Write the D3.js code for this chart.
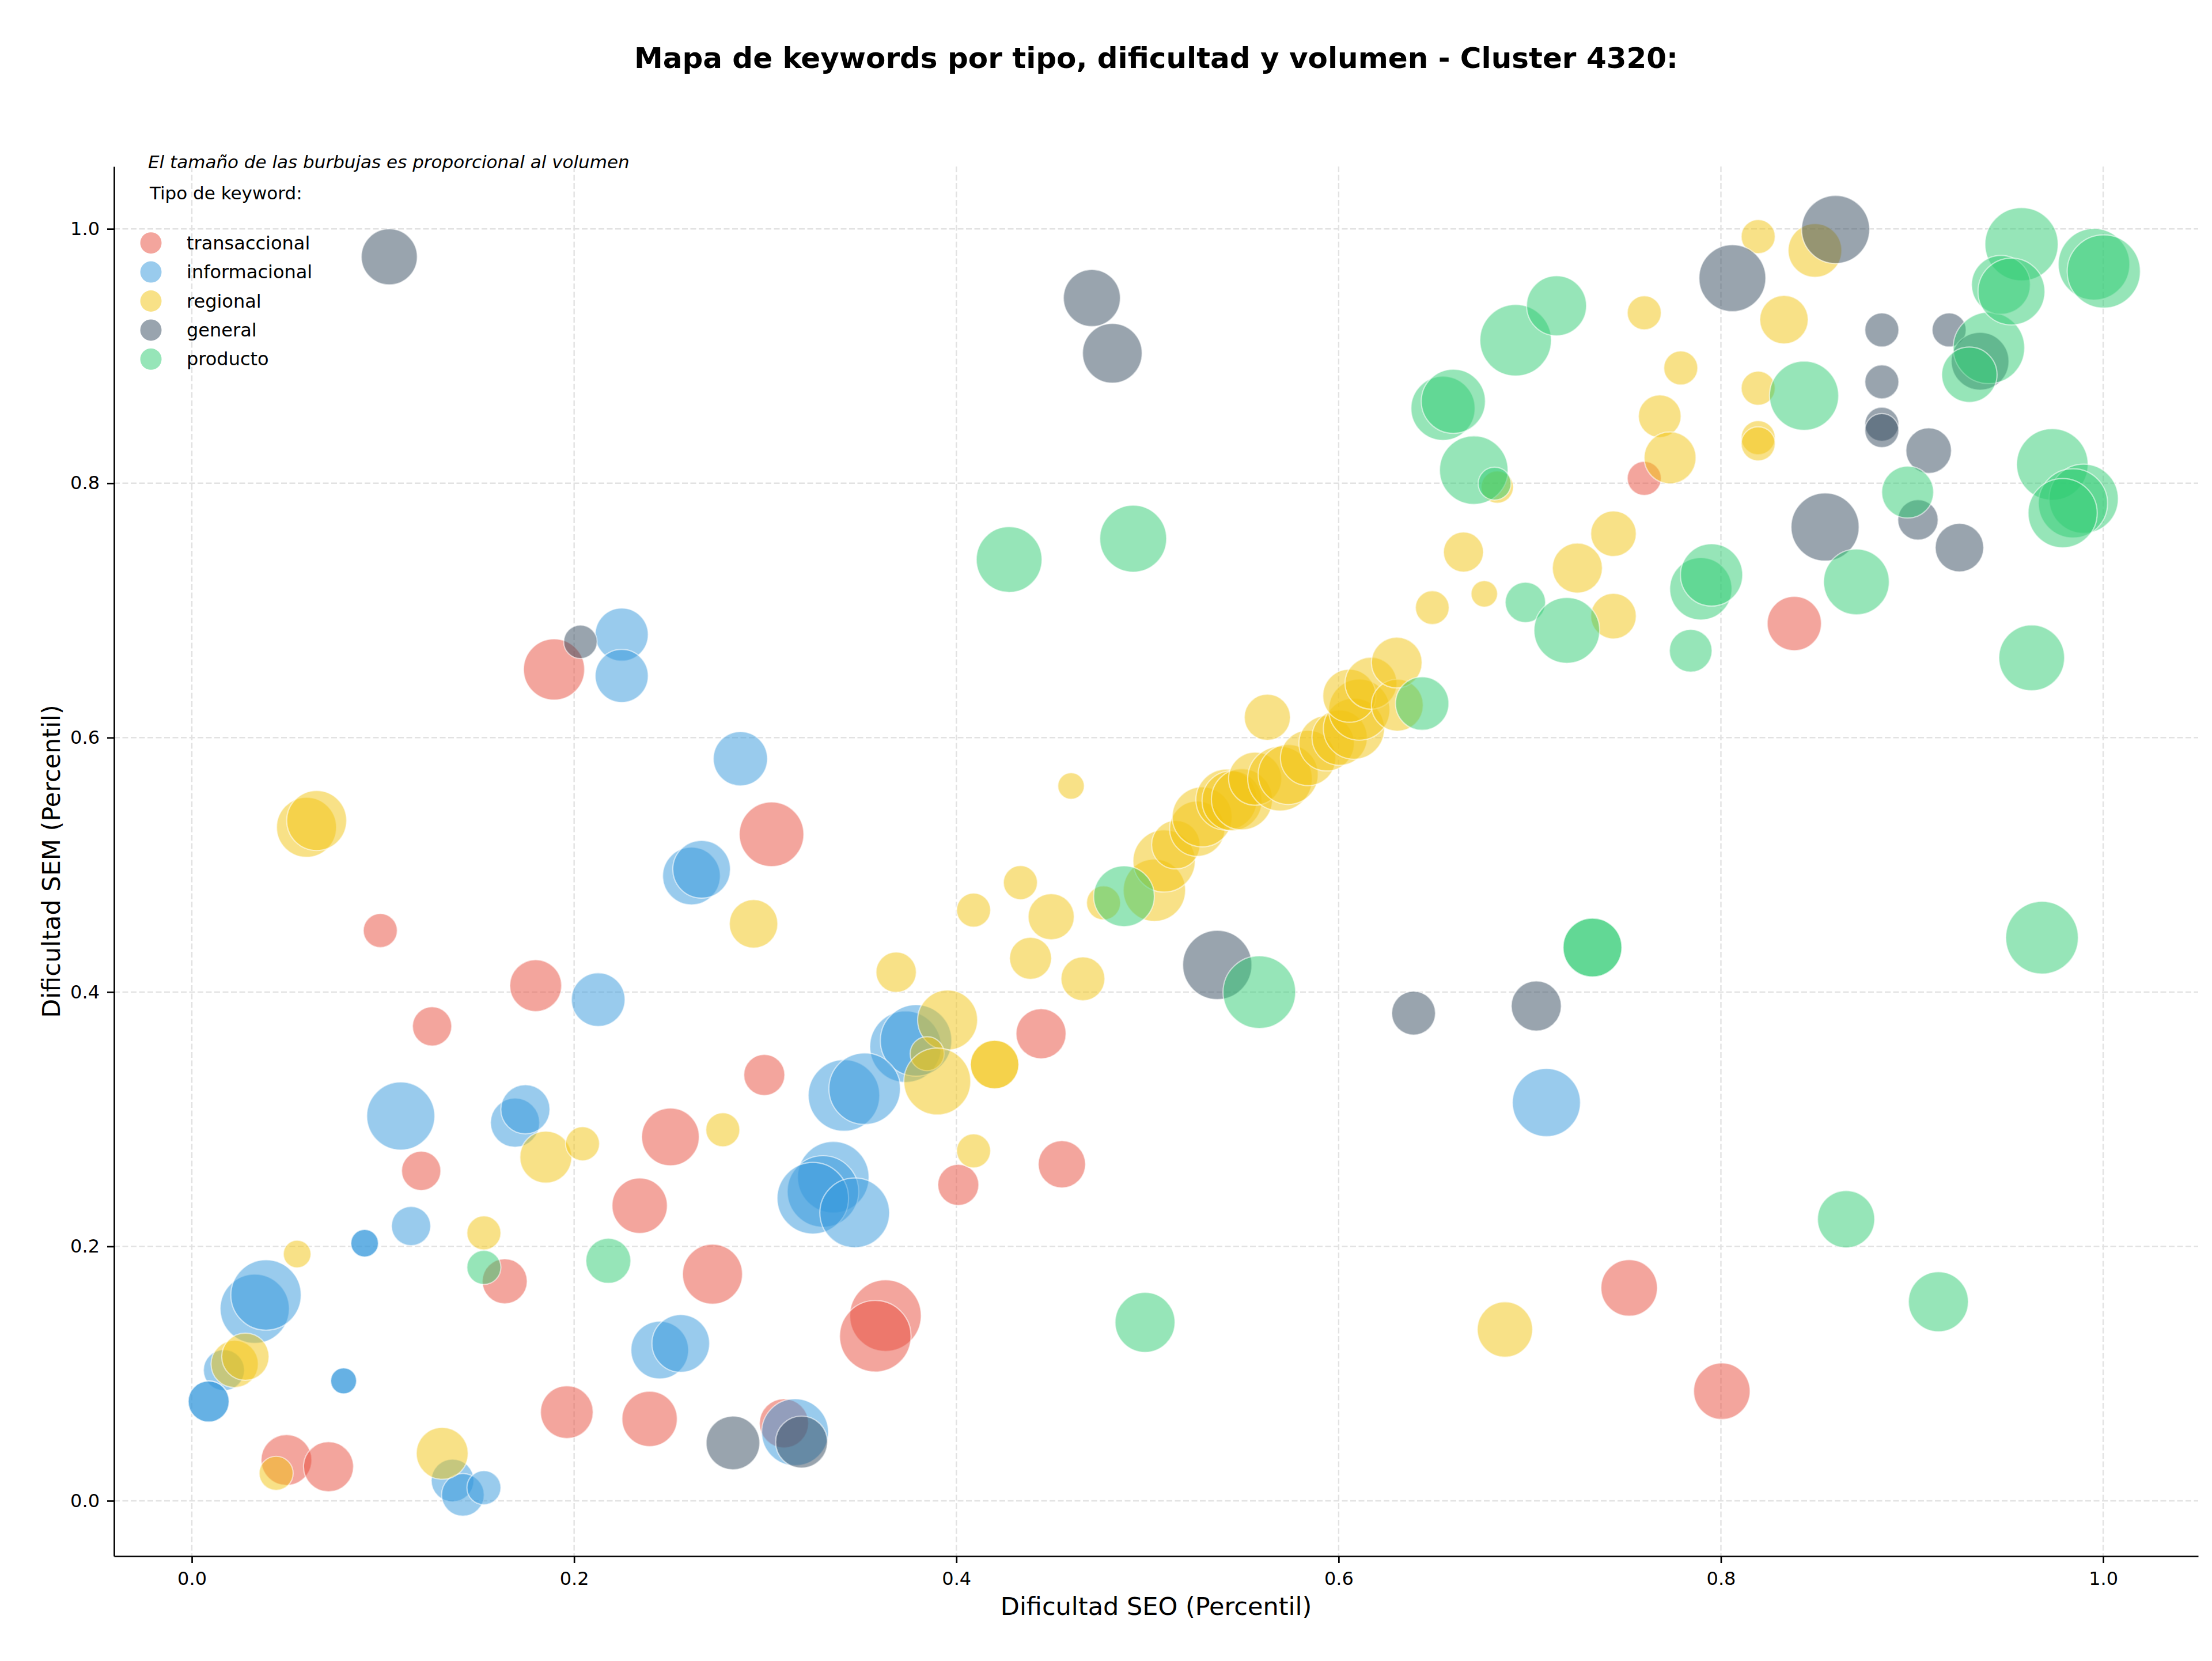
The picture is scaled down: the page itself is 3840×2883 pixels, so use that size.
<!DOCTYPE html>
<html><head><meta charset="utf-8">
<script src="https://cdn.jsdelivr.net/npm/d3@7"></script>
<style>
body{margin:0;background:#fff}
text{font-family:"DejaVu Sans",sans-serif;fill:#000}
</style>
</head><body>
<svg id="chart"></svg>
<script>
const tipos = ["transaccional","informacional","regional","general","producto"];
const colores = ["#e74c3c","#3498db","#f1c40f","#34495e","#2ecc71"];
const xTicks = [0.0,0.2,0.4,0.6,0.8,1.0];
const yTicks = [0.0,0.2,0.4,0.6,0.8,1.0];
const titulo = "Mapa de keywords por tipo, dificultad y volumen - Cluster 4320:";
const nota = "El tamaño de las burbujas es proporcional al volumen";
const tituloLeyenda = "Tipo de keyword:";
const etiquetaX = "Dificultad SEO (Percentil)";
const etiquetaY = "Dificultad SEM (Percentil)";

// [dificultad SEO, dificultad SEM, volumen]
const transaccional = [
[0.1895,0.6536,6650],[0.3033,0.524,7420],[0.0986,0.4483,2060],[0.1799,0.405,4790],
[0.1257,0.373,2740],[0.2995,0.3348,3000],[0.12,0.2594,2740],[0.2504,0.2861,5920],
[0.2343,0.232,5450],[0.2724,0.1782,6400],[0.1637,0.1726,3600],[0.0495,0.0321,4580],
[0.0715,0.0268,4460],[0.1962,0.0697,4940],[0.2395,0.0644,5450],[0.3098,0.0609,4300],
[0.4443,0.3672,4460],[0.401,0.2484,3000],[0.4552,0.2646,3980],[0.3629,0.1456,9100],
[0.3576,0.1294,9100],[0.7599,0.8038,2060],[0.8384,0.6897,5230],[0.752,0.1674,5680],
[0.8005,0.0862,5680]
];
const informacional = [
[0.2249,0.681,5010],[0.2249,0.6485,5010],[0.287,0.5834,5230],[0.2614,0.4912,5920],
[0.2667,0.4965,5920],[0.2126,0.394,5120],[0.1093,0.3025,8240],[0.1691,0.2973,4300],
[0.1745,0.3078,4300],[0.1147,0.216,2740],[0.0904,0.2025,1360],[0.0904,0.2025,1360],
[0.0329,0.151,8520],[0.0388,0.1618,8810],[0.2448,0.1185,5920],[0.2558,0.1237,5920],
[0.0168,0.1027,3000],[0.0088,0.0781,3000],[0.0088,0.0781,3000],[0.0794,0.0943,1200],
[0.0794,0.0943,1200],[0.1364,0.016,3240],[0.1418,0.0047,3240],[0.1528,0.0103,2060],
[0.3156,0.0539,7960],[0.3734,0.357,9100],[0.3789,0.3619,9100],[0.3412,0.3187,9100],
[0.352,0.324,9100],[0.3356,0.2544,9100],[0.3302,0.2432,9100],[0.3249,0.2379,9100],
[0.3468,0.2264,8660],[0.7087,0.3131,8240]
];
const regional = [
[0.06,0.5295,6400],[0.0653,0.5348,6400],[0.2939,0.4536,4180],[0.1852,0.2702,4790],
[0.2044,0.2807,2060],[0.2778,0.2917,2060],[0.0551,0.194,1360],[0.1528,0.2106,2060],
[0.0224,0.1076,3980],[0.028,0.1133,3980],[0.0441,0.0216,2060],[0.131,0.0373,4790],
[0.4335,0.486,2060],[0.409,0.4644,2060],[0.4496,0.4592,3790],[0.4388,0.4265,3140],
[0.4662,0.4104,3420],[0.3685,0.4156,2900],[0.477,0.4701,2060],[0.3954,0.378,6400],
[0.3847,0.3515,2060],[0.39,0.3297,7960],[0.42,0.343,4180],[0.42,0.343,4180],
[0.409,0.2751,2060],[0.687,0.1347,5450],[0.46,0.562,1250],[0.5627,0.616,3790],
[0.5036,0.48,6900],[0.5087,0.503,6900],[0.5148,0.5158,4180],[0.526,0.5284,5450],
[0.5286,0.5377,6400],[0.5413,0.5512,6650],[0.5442,0.5504,6400],[0.5494,0.5515,6650],
[0.5563,0.5677,5010],[0.5693,0.5677,7420],[0.5736,0.571,6400],[0.584,0.584,5450],
[0.5937,0.5955,5450],[0.6005,0.600,5450],[0.608,0.607,6650],[0.6108,0.622,6650],
[0.6056,0.6329,5010],[0.6169,0.6428,4790],[0.6307,0.6255,4790],[0.6304,0.659,4580],
[0.6653,0.7459,2850],[0.6762,0.713,1250],[0.649,0.7022,2030],[0.683,0.797,1860],
[0.7599,0.934,2060],[0.8195,0.9939,2060],[0.8492,0.983,5120],[0.833,0.9286,4180],
[0.779,0.8906,2060],[0.768,0.8527,3240],[0.7734,0.82,4790],[0.8195,0.8747,2060],
[0.8195,0.8358,2060],[0.8195,0.831,2060],[0.7438,0.7603,3690],[0.7249,0.7333,4460],
[0.7438,0.6955,3690]
];
const general = [
[0.1033,0.978,5590],[0.2033,0.6753,1990],[0.4709,0.9456,5780],[0.4816,0.9022,6330],
[0.2831,0.0455,5120],[0.319,0.0462,4790],[0.5365,0.4213,8520],[0.6392,0.3834,3420],
[0.7034,0.389,4460],[0.806,0.9612,7960],[0.860,0.9995,8240],[0.8842,0.9205,2060],
[0.8842,0.8797,2060],[0.8842,0.8464,2060],[0.8842,0.8414,2060],[0.9194,0.9205,2060],
[0.9356,0.8959,5920],[0.9087,0.8256,3690],[0.9031,0.7712,2900],[0.9248,0.7494,4180],
[0.8545,0.7656,8240]
];
const producto = [
[0.4276,0.740,7690],[0.4925,0.7564,7960],[0.6546,0.8589,7320],[0.66,0.8644,7320],
[0.6707,0.8103,8350],[0.6816,0.7997,1920],[0.6437,0.6268,5070],[0.4877,0.4753,6570],
[0.5585,0.3999,9390],[0.1528,0.1835,2060],[0.2179,0.1887,3600],[0.4987,0.1403,6400],
[0.6926,0.9124,9100],[0.714,0.9395,6400],[0.8435,0.8688,8520],[0.9402,0.9064,9100],
[0.930,0.8853,5450],[0.8977,0.793,4790],[0.8709,0.7224,7690],[0.9626,0.6627,7690],
[0.9573,0.9879,9540],[0.9465,0.956,6160],[0.952,0.9507,7960],[0.9952,0.9721,9100],
[1.0003,0.9665,9540],[0.9734,0.8148,9100],[0.9898,0.7878,8520],[0.9842,0.7842,8520],
[0.9788,0.7765,8520],[0.6977,0.7063,2900],[0.7194,0.6843,7690],[0.7895,0.717,6900],
[0.7951,0.7279,6900],[0.7842,0.6683,3240],[0.7328,0.435,6160],[0.7328,0.435,6160],
[0.968,0.4427,9390],[0.8655,0.2214,5820],[0.9138,0.1565,6400]
];
const series = [transaccional, informacional, regional, general, producto];

const W = 3840, H = 2883;
const L = 198, R = 3816, T = 289, B = 2701;

const svg = d3.select("#chart").attr("width", W).attr("height", H);

const x = d3.scaleLinear().domain([-0.0407, 1.0497]).range([L, R]);
const y = d3.scaleLinear().domain([-0.0435, 1.049]).range([B, T]);
const r = d3.scaleSqrt().domain([0, 10000]).range([0, 65]);

// grid
const grid = svg.append("g");
grid.selectAll("line.gx").data(xTicks).enter().append("line")
  .attr("x1", d => x(d)).attr("x2", d => x(d)).attr("y1", T).attr("y2", B)
  .attr("stroke", "#e2e2e2").attr("stroke-width", 2.4).attr("stroke-dasharray", "10,4.5");
grid.selectAll("line.gy").data(yTicks).enter().append("line")
  .attr("y1", d => y(d)).attr("y2", d => y(d)).attr("x1", L).attr("x2", R)
  .attr("stroke", "#e2e2e2").attr("stroke-width", 2.4).attr("stroke-dasharray", "10,4.5");

// bubbles
series.forEach((s, i) => {
  svg.append("g").selectAll("circle").data(s).enter().append("circle")
    .attr("cx", d => x(d[0])).attr("cy", d => y(d[1])).attr("r", d => r(d[2]))
    .attr("fill", colores[i]).attr("fill-opacity", 0.5)
    .attr("stroke", "#ffffff").attr("stroke-opacity", 0.55).attr("stroke-width", 2.2);
});

// axes
const fmt = d3.format(".1f");
const ax = svg.append("g").attr("transform", `translate(0,${B})`)
  .call(d3.axisBottom(x).tickValues(xTicks).tickFormat(fmt).tickSize(12).tickSizeOuter(0).tickPadding(15));
const ay = svg.append("g").attr("transform", `translate(${L},0)`)
  .call(d3.axisLeft(y).tickValues(yTicks).tickFormat(fmt).tickSize(12).tickSizeOuter(0).tickPadding(13));
[ax, ay].forEach(g => {
  g.select(".domain").attr("stroke", "#000").attr("stroke-width", 2.7);
  g.selectAll(".tick line").attr("stroke", "#000").attr("stroke-width", 2.7);
  g.selectAll(".tick text").attr("font-size", 32).attr("font-family", "DejaVu Sans").attr("fill", "#000");
});

// labels
svg.append("text").attr("x", (L + R) / 2).attr("y", 2788).attr("text-anchor", "middle")
  .attr("dominant-baseline", "central").attr("font-size", 43).text(etiquetaX);
svg.append("text").attr("transform", `translate(89,${(T + B) / 2}) rotate(-90)`)
  .attr("text-anchor", "middle").attr("dominant-baseline", "central").attr("font-size", 43).text(etiquetaY);
svg.append("text").attr("x", (L + R) / 2).attr("y", 118).attr("text-anchor", "middle")
  .attr("font-size", 50).attr("font-weight", "bold").text(titulo);

// legend
svg.append("text").attr("x", 257).attr("y", 281).attr("dominant-baseline", "central")
  .attr("font-size", 31).attr("font-style", "italic").text(nota);
svg.append("text").attr("x", 260).attr("y", 335).attr("dominant-baseline", "central")
  .attr("font-size", 31).text(tituloLeyenda);
const leg = svg.append("g").selectAll("g").data(tipos).enter().append("g")
  .attr("transform", (d, i) => `translate(0,${421.7 + i * 50.4})`);
leg.append("circle").attr("cx", 262).attr("cy", 0).attr("r", 18.5)
  .attr("fill", (d, i) => colores[i]).attr("fill-opacity", 0.5);
leg.append("text").attr("x", 324).attr("y", 0).attr("dominant-baseline", "central")
  .attr("font-size", 32).text(d => d);
</script>
</body></html>
